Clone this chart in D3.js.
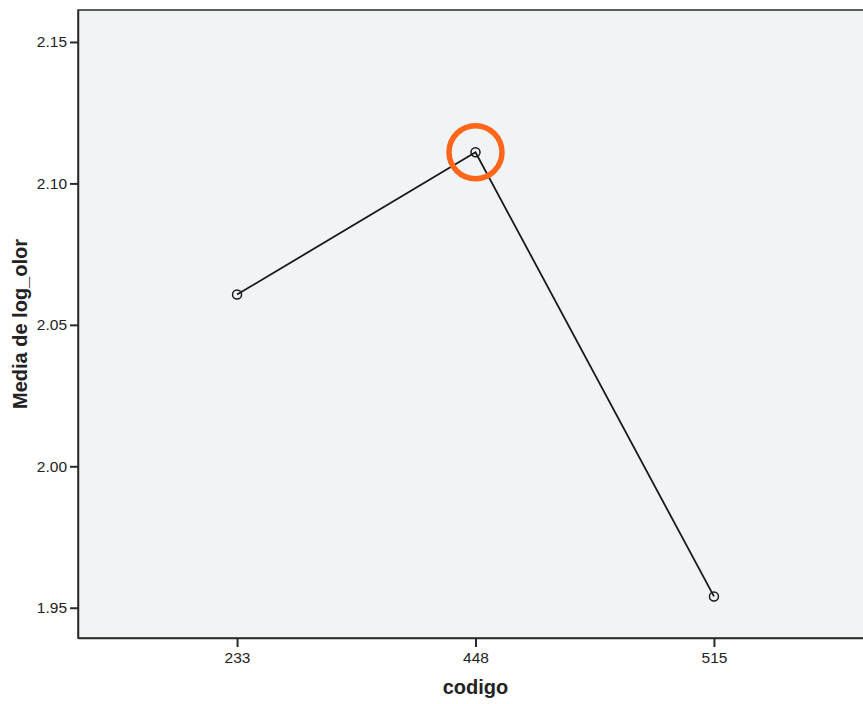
<!DOCTYPE html>
<html lang="en">
<head>
<meta charset="utf-8">
<title>Media de log_olor por codigo</title>
<script src="https://d3js.org/d3.v7.min.js"></script>
<style>
  body { margin: 0; background: #fff; }
  text { font-family: "Liberation Sans", Arial, sans-serif; }
</style>
</head>
<body>
<script>
// data
var codigos = ["233", "448", "515"];
var medias = [2.0607, 2.1110, 1.9540];
var yTicks = [1.95, 2.00, 2.05, 2.10, 2.15];
var highlighted = "448";

var width = 863, height = 704;
var margin = { top: 10, right: -10, bottom: 66, left: 78 };

var svg = d3.select("body").append("svg")
  .attr("width", width)
  .attr("height", height);

var x = d3.scalePoint()
  .domain(codigos)
  .range([margin.left, width - margin.right])
  .padding(0.667);

var y = d3.scaleLinear()
  .domain([1.9393, 2.1613])
  .range([height - margin.bottom, margin.top]);

// plot background
svg.append("rect")
  .attr("x", margin.left)
  .attr("y", margin.top)
  .attr("width", width - margin.right - margin.left)
  .attr("height", height - margin.bottom - margin.top)
  .attr("fill", "#f1f4f5")
  .attr("stroke", "#2a2a2a")
  .attr("stroke-width", 1.5);

// axes
var yAxis = d3.axisLeft(y).tickValues(yTicks).tickFormat(d3.format(".2f"))
  .tickSize(8).tickSizeOuter(0).tickPadding(3);
svg.append("g")
  .attr("transform", "translate(" + margin.left + ",0)")
  .call(yAxis)
  .call(function(g) {
    g.select(".domain").attr("stroke", "#2a2a2a").attr("stroke-width", 1.5);
    g.selectAll(".tick line").attr("stroke", "#2a2a2a").attr("stroke-width", 2);
    g.selectAll(".tick text").attr("font-size", 15.5).attr("fill", "#222");
  });

var xAxis = d3.axisBottom(x).tickSize(9).tickSizeOuter(0).tickPadding(5);
svg.append("g")
  .attr("transform", "translate(0," + (height - margin.bottom) + ")")
  .call(xAxis)
  .call(function(g) {
    g.select(".domain").attr("stroke", "#2a2a2a").attr("stroke-width", 1.5);
    g.selectAll(".tick line").attr("stroke", "#2a2a2a").attr("stroke-width", 2);
    g.selectAll(".tick text").attr("font-size", 15.5).attr("fill", "#222");
  });

// line
var line = d3.line()
  .x(function(d, i) { return x(codigos[i]); })
  .y(function(d) { return y(d); });

svg.append("path")
  .datum(medias)
  .attr("d", line)
  .attr("fill", "none")
  .attr("stroke", "#1a1a1a")
  .attr("stroke-width", 1.8);

svg.selectAll("circle.pt")
  .data(medias)
  .enter()
  .append("circle")
  .attr("class", "pt")
  .attr("cx", function(d, i) { return x(codigos[i]); })
  .attr("cy", function(d) { return y(d); })
  .attr("r", 4.5)
  .attr("fill", "none")
  .attr("stroke", "#1a1a1a")
  .attr("stroke-width", 1.5);

// highlight ring
var hi = codigos.indexOf(highlighted);
svg.append("circle")
  .attr("cx", x(highlighted))
  .attr("cy", y(medias[hi]))
  .attr("r", 26.5)
  .attr("fill", "none")
  .attr("stroke", "#ff6619")
  .attr("stroke-width", 5.5);

// axis titles
svg.append("text")
  .attr("x", x(highlighted))
  .attr("y", 694)
  .attr("text-anchor", "middle")
  .attr("font-size", 20)
  .attr("font-weight", "bold")
  .attr("fill", "#222")
  .text("codigo");

svg.append("text")
  .attr("transform", "translate(27," + ((margin.top + height - margin.bottom) / 2) + ") rotate(-90)")
  .attr("text-anchor", "middle")
  .attr("font-size", 20)
  .attr("font-weight", "bold")
  .attr("fill", "#222")
  .text("Media de log_olor");
</script>
</body>
</html>
